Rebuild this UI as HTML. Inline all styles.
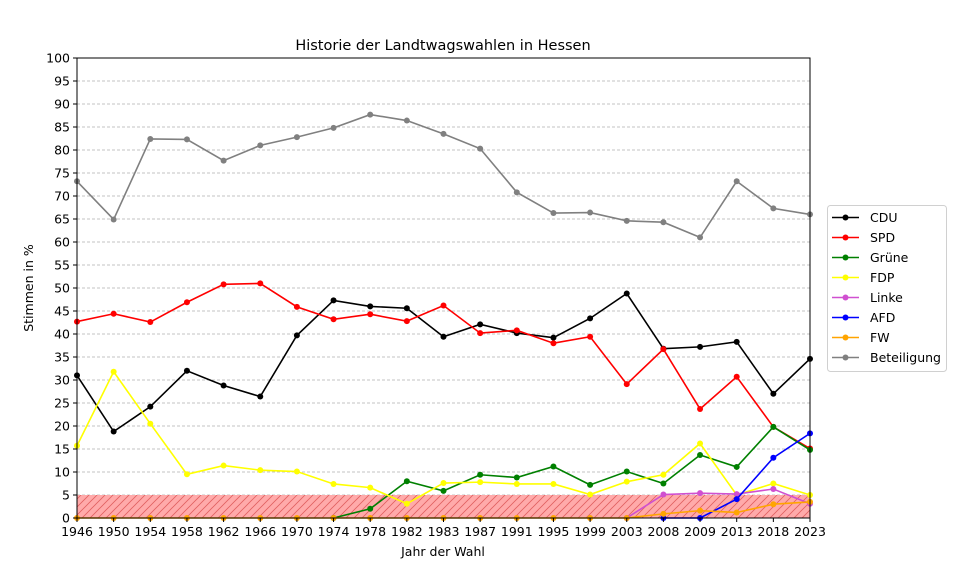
<!DOCTYPE html>
<html><head><meta charset="utf-8"><style>
html,body{margin:0;padding:0;background:#fff;}
svg{display:block;font-family:"DejaVu Sans","Liberation Sans",sans-serif;}
</style></head><body>
<svg id="s" width="960" height="576" viewBox="0 0 960 576">
<defs>
<pattern id="h" width="8" height="8" patternUnits="userSpaceOnUse" patternTransform="rotate(0)">
<path d="M-2,10 L10,-2 M-2,2 L2,-2 M6,10 L10,6" stroke="#e06060" stroke-width="0.8"/>
</pattern>
</defs>
<rect x="0" y="0" width="960" height="576" fill="#fff"/>
<text x="443" y="50" font-size="14.5" text-anchor="middle" fill="#000">Historie der Landtwagswahlen in Hessen</text>
<g id="grid"></g>
<rect x="77" y="495" width="733" height="23" fill="#ffaaaa"/>
<rect x="77" y="495" width="733" height="23" fill="url(#h)"/>
<g id="series"></g>
<rect x="77" y="58" width="733" height="460" fill="none" stroke="#000" stroke-width="1"/>
<g id="ticks" font-size="12.5" fill="#000"></g>
<text x="443" y="556" font-size="12.5" text-anchor="middle">Jahr der Wahl</text>
<text x="0" y="0" font-size="12.5" text-anchor="middle" transform="translate(33,288) rotate(-90)">Stimmen in %</text>
<rect x="827.5" y="205.5" width="119" height="166" rx="3" fill="#fff" stroke="#d0d0d0"/>
<g font-size="12.5" fill="#000">
<text x="870" y="222">CDU</text>
<text x="870" y="242">SPD</text>
<text x="870" y="262">Grüne</text>
<text x="870" y="282">FDP</text>
<text x="870" y="302">Linke</text>
<text x="870" y="322">AFD</text>
<text x="870" y="342">FW</text>
<text x="870" y="362">Beteiligung</text>
</g>
<g id="leg"></g>
</svg>
<script>
var NS="http://www.w3.org/2000/svg";
function el(p,t,a){var e=document.createElementNS(NS,t);for(var k in a)e.setAttribute(k,a[k]);p.appendChild(e);return e;}
var years=[1946,1950,1954,1958,1962,1966,1970,1974,1978,1982,1983,1987,1991,1995,1999,2003,2008,2009,2013,2018,2023];
function X(i){return 77+i*733/20;}
function Y(v){return 518-v*4.6;}
var g=document.getElementById('grid'),t=document.getElementById('ticks');
for(var v=0;v<=100;v+=5){
 if(v>0&&v<100)el(g,'line',{x1:77,x2:810,y1:Y(v),y2:Y(v),stroke:'#b0b0b0','stroke-dasharray':'3,2','stroke-width':0.8});
 el(t,'line',{x1:73,x2:77,y1:Y(v),y2:Y(v),stroke:'#000'});
 var tx=el(t,'text',{x:70,y:Y(v)+4.5,'text-anchor':'end'});tx.textContent=v;
}
years.forEach(function(y,i){
 el(t,'line',{x1:X(i),x2:X(i),y1:518,y2:522,stroke:'#000'});
 var tx=el(t,'text',{x:X(i),y:536,'text-anchor':'middle'});tx.textContent=y;
});
var N=null;
var S=[
['#000',[31,18.8,24.2,32,28.8,26.4,39.7,47.3,46,45.6,39.4,42.1,40.2,39.2,43.4,48.8,36.8,37.2,38.3,27,34.6]],
['#f00',[42.7,44.4,42.6,46.9,50.8,51,45.9,43.2,44.3,42.8,46.2,40.2,40.8,38,39.4,29.1,36.7,23.7,30.7,19.8,15.1]],
['#008000',[N,N,N,N,N,N,N,0,2.0,8.0,5.9,9.4,8.8,11.2,7.2,10.1,7.5,13.7,11.1,19.8,14.8]],
['#ffff00',[15.7,31.8,20.5,9.5,11.4,10.4,10.1,7.4,6.6,3.1,7.6,7.8,7.4,7.4,5.1,7.9,9.4,16.2,5.0,7.5,5.0]],
['#d050d0',[N,N,N,N,N,N,N,N,N,N,N,N,N,N,N,0,5.1,5.4,5.2,6.3,3.1]],
['#0000ff',[N,N,N,N,N,N,N,N,N,N,N,N,N,N,N,N,0,0,4.1,13.1,18.4]],
['#ffa500',[0,0,0,0,0,0,0,0,0,0,0,0,0,0,0,0,0.9,1.6,1.2,3.0,3.5]],
['#808080',[73.2,64.9,82.4,82.3,77.7,81.0,82.8,84.8,87.7,86.4,83.5,80.3,70.8,66.3,66.4,64.6,64.3,61.0,73.2,67.3,66.0]]
];
var sg=document.getElementById('series'),lg=document.getElementById('leg');
S.forEach(function(s,k){
 var pts=[];s[1].forEach(function(v,i){if(v!==null)pts.push(X(i)+','+Y(v));});
 el(sg,'polyline',{points:pts.join(' '),fill:'none',stroke:s[0],'stroke-width':1.6});
 s[1].forEach(function(v,i){if(v!==null)el(sg,'circle',{cx:X(i),cy:Y(v),r:3,fill:s[0]});});
 var ly=217.5+k*20;
 el(lg,'line',{x1:832,x2:859,y1:ly,y2:ly,stroke:s[0],'stroke-width':1.6});
 el(lg,'circle',{cx:845.5,cy:ly,r:3,fill:s[0]});
});
</script>
</body></html>
